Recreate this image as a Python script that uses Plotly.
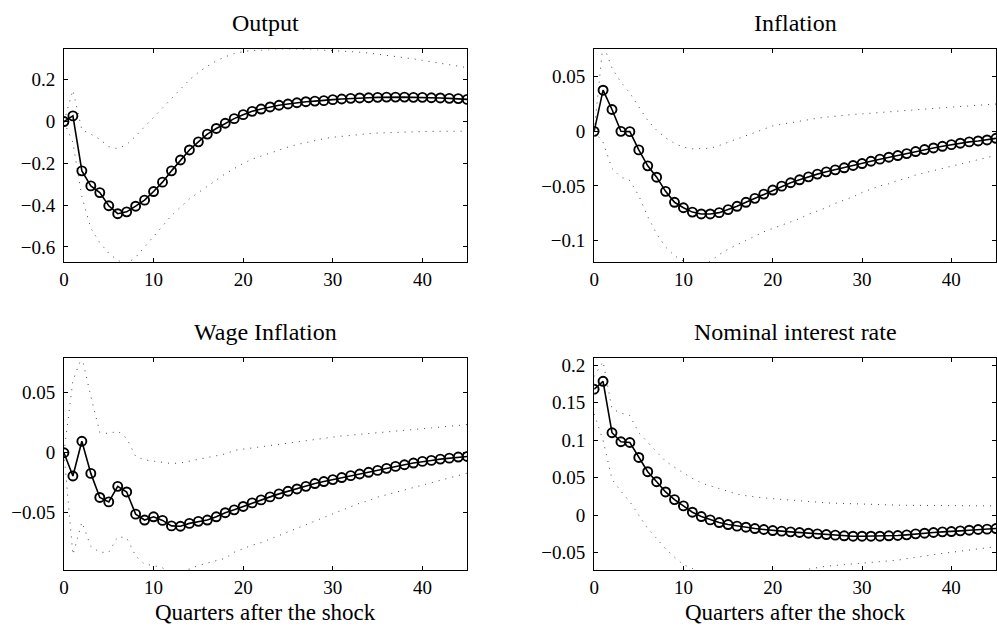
import plotly.graph_objects as go

quarters = list(range(46))

output_irf = [0, 0.027, -0.236, -0.308, -0.34, -0.403, -0.441, -0.432, -0.405, -0.376,
              -0.335, -0.29, -0.236, -0.184, -0.136, -0.097, -0.06, -0.033, -0.008, 0.014,
              0.033, 0.049, 0.06, 0.07, 0.078, 0.084, 0.09, 0.095, 0.098, 0.1,
              0.105, 0.108, 0.111, 0.113, 0.114, 0.116, 0.117, 0.117, 0.117, 0.116,
              0.116, 0.114, 0.113, 0.111, 0.11, 0.106]
output_upper = [0, 0.15, -0.04, -0.06, -0.085, -0.12, -0.13, -0.11, -0.07, -0.025,
                0.015, 0.06, 0.11, 0.155, 0.2, 0.235, 0.265, 0.29, 0.31, 0.325,
                0.335, 0.34, 0.343, 0.345, 0.346, 0.346, 0.346, 0.345, 0.344, 0.342,
                0.34, 0.338, 0.335, 0.332, 0.328, 0.323, 0.318, 0.312, 0.306, 0.3,
                0.293, 0.286, 0.279, 0.272, 0.265, 0.258]
output_lower = [0, -0.1, -0.36, -0.51, -0.58, -0.63, -0.665, -0.68, -0.65, -0.6,
                -0.55, -0.5, -0.45, -0.41, -0.37, -0.34, -0.31, -0.28, -0.25, -0.225,
                -0.2, -0.18, -0.165, -0.15, -0.135, -0.122, -0.11, -0.1, -0.09, -0.082,
                -0.075, -0.07, -0.065, -0.061, -0.058, -0.055, -0.053, -0.051, -0.05, -0.049,
                -0.048, -0.047, -0.047, -0.046, -0.046, -0.046]

inflation_irf = [0, 0.0377, 0.020, 0, -0.0003, -0.017, -0.0316, -0.042, -0.055, -0.065,
                 -0.070, -0.074, -0.0757, -0.0757, -0.0745, -0.0717, -0.0687, -0.065, -0.0614, -0.0575,
                 -0.0538, -0.0502, -0.0471, -0.0444, -0.0417, -0.0392, -0.0371, -0.0353, -0.0334, -0.0313,
                 -0.0295, -0.0274, -0.0255, -0.0237, -0.0222, -0.0204, -0.0185, -0.0167, -0.0152, -0.0137,
                 -0.0122, -0.0109, -0.0097, -0.0088, -0.0079, -0.0064]
inflation_upper = [0, 0.08, 0.058, 0.045, 0.035, 0.022, 0.01, 0.001, -0.006, -0.011,
                   -0.0145, -0.016, -0.016, -0.0155, -0.013, -0.010, -0.007, -0.004, -0.001, 0.002,
                   0.005, 0.0065, 0.008, 0.0095, 0.011, 0.012, 0.013, 0.014, 0.015, 0.0155,
                   0.016, 0.0167, 0.0175, 0.018, 0.0187, 0.0193, 0.02, 0.0205, 0.021, 0.0216,
                   0.0222, 0.0228, 0.0234, 0.024, 0.0246, 0.025]
inflation_lower = [0, -0.01, -0.034, -0.042, -0.045, -0.059, -0.078, -0.094, -0.106, -0.114,
                   -0.119, -0.122, -0.122, -0.119, -0.113, -0.108, -0.104, -0.1, -0.096, -0.092,
                   -0.089, -0.086, -0.083, -0.08, -0.076, -0.073, -0.07, -0.066, -0.063, -0.06,
                   -0.056, -0.053, -0.05, -0.048, -0.045, -0.043, -0.04, -0.038, -0.036, -0.034,
                   -0.032, -0.03, -0.028, -0.026, -0.024, -0.022]

wage_irf = [0, -0.0194, 0.0096, -0.0172, -0.0373, -0.041, -0.028, -0.0327, -0.0512, -0.0561,
            -0.0534, -0.0564, -0.061, -0.0613, -0.0589, -0.0572, -0.0561, -0.0534, -0.05, -0.0476,
            -0.0448, -0.0418, -0.0393, -0.0368, -0.0343, -0.0321, -0.0302, -0.028, -0.0257, -0.024,
            -0.0224, -0.0207, -0.0191, -0.0177, -0.0163, -0.0147, -0.013, -0.0114, -0.01, -0.0086,
            -0.0072, -0.0064, -0.0053, -0.0045, -0.0036, -0.0031]
wage_upper = [0, 0.06, 0.08, 0.047, 0.017, 0.016, 0.018, 0.012, -0.003, -0.006,
              -0.007, -0.008, -0.009, -0.0085, -0.007, -0.0055, -0.004, -0.0025, -0.001, 0.002,
              0.003, 0.004, 0.005, 0.006, 0.007, 0.008, 0.0095, 0.0105, 0.0115, 0.0125,
              0.0133, 0.014, 0.0147, 0.0153, 0.016, 0.0167, 0.0174, 0.018, 0.0187, 0.0194,
              0.02, 0.0207, 0.0214, 0.022, 0.0228, 0.0235]
wage_lower = [0, -0.085, -0.058, -0.078, -0.083, -0.083, -0.07, -0.071, -0.086, -0.093,
              -0.094, -0.096, -0.1, -0.1, -0.097, -0.094, -0.092, -0.09, -0.088, -0.083,
              -0.08, -0.077, -0.075, -0.072, -0.069, -0.066, -0.063, -0.06, -0.057, -0.054,
              -0.051, -0.048, -0.045, -0.042, -0.04, -0.037, -0.035, -0.033, -0.031, -0.029,
              -0.027, -0.025, -0.023, -0.021, -0.019, -0.017]

rate_irf = [0.168, 0.1786, 0.110, 0.098, 0.097, 0.077, 0.058, 0.0447, 0.031, 0.0208,
            0.0124, 0.004, -0.0018, -0.0063, -0.0098, -0.0125, -0.0146, -0.016, -0.0178, -0.0191,
            -0.0205, -0.0213, -0.0222, -0.0231, -0.024, -0.0249, -0.0258, -0.0266, -0.0275, -0.028,
            -0.028, -0.028, -0.028, -0.0275, -0.0271, -0.0262, -0.0249, -0.024, -0.0231, -0.0222,
            -0.0218, -0.0209, -0.02, -0.0191, -0.0186, -0.0178]
rate_upper = [0.185, 0.205, 0.142, 0.136, 0.133, 0.11, 0.097, 0.085, 0.072, 0.064,
              0.056, 0.049, 0.043, 0.039, 0.035, 0.031, 0.028, 0.026, 0.024, 0.023,
              0.022, 0.021, 0.02, 0.019, 0.018, 0.017, 0.0165, 0.016, 0.0155, 0.015,
              0.0145, 0.014, 0.0138, 0.0136, 0.0134, 0.0132, 0.013, 0.0129, 0.0128, 0.0127,
              0.0126, 0.0126, 0.0125, 0.0125, 0.0125, 0.0125]
rate_lower = [0.135, 0.1, 0.048, 0.032, 0.018, 0.0, -0.018, -0.031, -0.045, -0.056,
              -0.066, -0.071, -0.076, -0.079, -0.081, -0.082, -0.083, -0.083, -0.083, -0.082,
              -0.081, -0.079, -0.077, -0.075, -0.072, -0.0695, -0.068, -0.067, -0.066, -0.0655,
              -0.065, -0.064, -0.063, -0.062, -0.06, -0.058, -0.056, -0.054, -0.0525, -0.051,
              -0.0495, -0.048, -0.0465, -0.045, -0.0435, -0.042]

titles = ["Output", "Inflation", "Wage Inflation", "Nominal interest rate"]
xlabel = "Quarters after the shock"
x_ticks = [0, 10, 20, 30, 40]
y_ticks = [
    ([-0.6, -0.4, -0.2, 0, 0.2], ["\u22120.6", "\u22120.4", "\u22120.2", "0", "0.2"]),
    ([-0.1, -0.05, 0, 0.05], ["\u22120.1", "\u22120.05", "0", "0.05"]),
    ([-0.05, 0, 0.05], ["\u22120.05", "0", "0.05"]),
    ([-0.05, 0, 0.05, 0.1, 0.15, 0.2], ["\u22120.05", "0", "0.05", "0.1", "0.15", "0.2"]),
]
y_ranges = [[-0.671, 0.345], [-0.1195, 0.075], [-0.098, 0.079], [-0.0735, 0.2097]]

panels = [
    (output_irf, output_upper, output_lower),
    (inflation_irf, inflation_upper, inflation_lower),
    (wage_irf, wage_upper, wage_lower),
    (rate_irf, rate_upper, rate_lower),
]

W, H = 997, 629
x_domains = [[59.3 / W, 465.0 / W], [592.7 / W, 1.0]]
y_domains = [[1 - 260.0 / H, 1 - 46.7 / H], [1 - 570.0 / H, 1 - 356.7 / H]]

FONT = "Liberation Serif, Times New Roman, serif"

fig = go.Figure()
layout = dict(
    width=W, height=H, autosize=False,
    margin=dict(l=0, r=0, t=0, b=0),
    paper_bgcolor="white", plot_bgcolor="white",
    showlegend=False,
    font=dict(family=FONT, size=19, color="black"),
)
annotations = []

for i, (irf, up, lo) in enumerate(panels):
    row, col = divmod(i, 2)
    n = i + 1
    xa = "x" if n == 1 else f"x{n}"
    ya = "y" if n == 1 else f"y{n}"
    for band in (up, lo):
        fig.add_trace(go.Scatter(
            x=quarters, y=band, xaxis=xa, yaxis=ya, mode="lines",
            line=dict(color="#444444", width=1, dash="1px,6px"),
            hoverinfo="skip", cliponaxis=True))
    fig.add_trace(go.Scatter(
        x=quarters, y=irf, xaxis=xa, yaxis=ya, mode="lines+markers",
        line=dict(color="black", width=1.6),
        marker=dict(symbol="circle-open", size=9, color="black",
                    line=dict(width=1.9, color="black"))))
    axis_common = dict(
        showline=True, linecolor="black", linewidth=1, mirror="allticks",
        ticks="inside", ticklen=4, tickcolor="black", tickwidth=1,
        showgrid=False, zeroline=False,
        tickfont=dict(family=FONT, size=19, color="black"),
    )
    xkey = "xaxis" if n == 1 else f"xaxis{n}"
    ykey = "yaxis" if n == 1 else f"yaxis{n}"
    layout[xkey] = dict(axis_common, domain=x_domains[col], range=[0, 45],
                        tickvals=x_ticks, ticktext=[str(v) for v in x_ticks],
                        anchor=ya, ticklabelstandoff=0)
    tv, tt = y_ticks[i]
    layout[ykey] = dict(axis_common, domain=y_domains[row], range=y_ranges[i],
                        tickvals=tv, ticktext=tt, anchor=xa, ticklabelstandoff=4)
    cx = (x_domains[col][0] + x_domains[col][1]) / 2
    top = y_domains[row][1]
    annotations.append(dict(text=titles[i], x=cx, y=top + 26.5 / H, xref="paper", yref="paper",
                            showarrow=False, font=dict(family=FONT, size=24, color="black"),
                            xanchor="center", yanchor="middle"))
    if row == 1:
        annotations.append(dict(text=xlabel, x=cx, y=1 - 612.5 / H, xref="paper", yref="paper",
                                showarrow=False, font=dict(family=FONT, size=23, color="black"),
                                xanchor="center", yanchor="middle"))

layout["annotations"] = annotations
fig.update_layout(**layout)
fig.write_html("out.html", config={"displayModeBar": False},
               post_script="document.body.style.margin='0';document.body.style.overflow='hidden';")
